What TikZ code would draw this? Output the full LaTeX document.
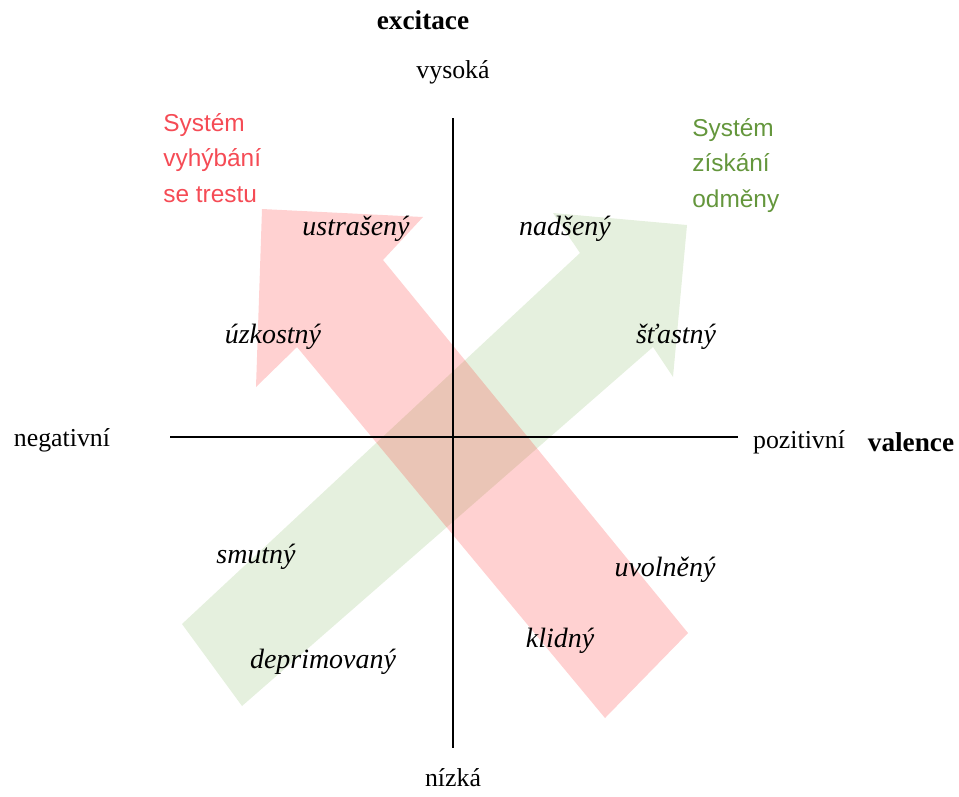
\documentclass[tikz,border=0pt]{standalone}
\usepackage{fontspec}
\setmainfont{Liberation Serif}
\newfontfamily\labelsans{Liberation Sans}
\definecolor{arrred}{RGB}{255,0,0}
\definecolor{arrgreen}{RGB}{112,173,71}
\definecolor{txtred}{RGB}{245,75,85}
\definecolor{txtgreen}{RGB}{100,150,60}
\begin{document}
\begin{tikzpicture}[x=0.02cm,y=-0.02cm,
  axisline/.style={line width=1.2pt,black},
  axislabel/.style={inner sep=0pt,font=\fontsize{14.7}{17}\selectfont},
  axisbold/.style={inner sep=0pt,font=\fontsize{15.5}{18}\selectfont\bfseries},
  mood/.style={inner sep=0pt,font=\fontsize{15.9}{18}\selectfont\itshape},
  syslabel/.style={inner sep=0pt,anchor=base west,font=\labelsans\fontsize{13.9}{17}\selectfont},
  redarrow/.style={fill=arrred,fill opacity=0.18,draw=none},
  greenarrow/.style={fill=arrgreen,fill opacity=0.18,draw=none}]
\useasboundingbox (0,0) rectangle (959,796);
% green arrow
\fill[greenarrow] (182,624) -- (580,253) -- (553,213) -- (687,225) -- (673,377) -- (653,347) -- (242,706) -- cycle;
% red arrow
\fill[redarrow] (605,718) -- (297,347) -- (256,387) -- (262,209) -- (423,217) -- (383,260) -- (688,633) -- cycle;
% axes
\coordinate (vt) at (453,118);
\coordinate (vb) at (453,748);
\coordinate (hl) at (170,437);
\coordinate (hr) at (738,437);
\draw[axisline] (vt) -- (vb);
\draw[axisline] (hl) -- (hr);
% axis labels
\node[axisbold] (exc) at (423,20) {excitace};
\node[axislabel] (vys) at (453,72) {vysoká};
\node[axislabel] (niz) at (453,778) {nízká};
\node[axislabel] (neg) at (62,440) {negativní};
\node[axislabel] (poz) at (799,442) {pozitivní};
\node[axisbold] (val) at (911,442) {valence};
% system labels
\node[syslabel,text=txtred] (r1) at (163,131) {Systém};
\node[syslabel,text=txtred] (r2) at (163,166.5) {vyhýbání};
\node[syslabel,text=txtred] (r3) at (163,202) {se trestu};
\node[syslabel,text=txtgreen] (g1) at (692,136) {Systém};
\node[syslabel,text=txtgreen] (g2) at (692,171.5) {získání};
\node[syslabel,text=txtgreen] (g3) at (692,207) {odměny};
% moods
\node[mood] (ustr) at (356,229) {ustrašený};
\node[mood] (nads) at (565,229) {nadšený};
\node[mood] (uzko) at (273,337) {úzkostný};
\node[mood] (stas) at (676,337) {šťastný};
\node[mood] (smut) at (256,557) {smutný};
\node[mood] (uvol) at (665,570) {uvolněný};
\node[mood] (depr) at (323,662) {deprimovaný};
\node[mood] (klid) at (560,641) {klidný};
\end{tikzpicture}
\end{document}
